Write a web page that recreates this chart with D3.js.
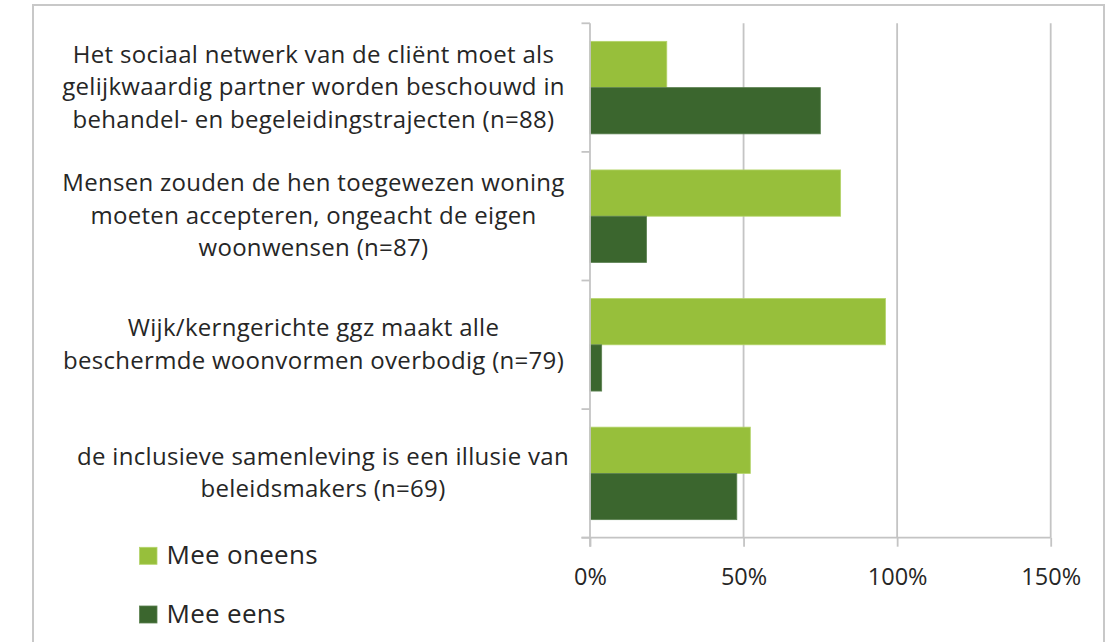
<!DOCTYPE html>
<html>
<head>
<meta charset="utf-8">
<script src="https://cdn.jsdelivr.net/npm/d3@7"></script>
<style>
  html, body { margin: 0; padding: 0; background: #ffffff; }
  svg { display: block; }
</style>
</head>
<body>
<svg id="chart" width="1106" height="642"></svg>
<script>
// ---- data ----
const categories = [
  "Het sociaal netwerk van de cliënt moet als\ngelijkwaardig partner worden beschouwd in\nbehandel- en begeleidingstrajecten (n=88)",
  "Mensen zouden de hen toegewezen woning\nmoeten accepteren, ongeacht de eigen\nwoonwensen (n=87)",
  "Wijk/kerngerichte ggz maakt alle\nbeschermde woonvormen overbodig (n=79)",
  "de inclusieve samenleving is een illusie van\nbeleidsmakers (n=69)"
];
const seriesNames = ["Mee oneens", "Mee eens"];
const meeOneens = [25.0, 81.6, 96.2, 52.2];
const meeEens = [75.0, 18.4, 3.8, 47.8];
const xTicks = [0, 50, 100, 150];
const xTickLabels = ["0%", "50%", "100%", "150%"];

// ---- style ----
const colors = ["#97bf3b", "#3b662e"];
const strokes = ["#b4d46a", "#5b8050"];
const gridColor = "#c4c4c4";
const textColor = "#262626";
const fontFamily = "'Open Sans', Lato, sans-serif";

const svg = d3.select("#chart");

// outer frame
svg.append("rect")
  .attr("x", 33).attr("y", 5)
  .attr("width", 1071).attr("height", 700)
  .attr("fill", "none")
  .attr("stroke", "#c8c8c8")
  .attr("stroke-width", 2);

const plot = { left: 590, right: 1050.7, top: 23.3, bottom: 537.7 };

const x = d3.scaleLinear().domain([0, 150]).range([plot.left, plot.right]);
const y = d3.scaleBand().domain(d3.range(categories.length)).range([plot.top, plot.bottom]).paddingInner(0).paddingOuter(0);
const inner = d3.scaleBand().domain(d3.range(seriesNames.length)).range([0, y.bandwidth()]).paddingOuter(0.39).paddingInner(0);

// gridlines
svg.append("g").selectAll("line")
  .data(xTicks.filter(t => t > 0))
  .join("line")
  .attr("x1", d => x(d)).attr("x2", d => x(d))
  .attr("y1", plot.top).attr("y2", plot.bottom)
  .attr("stroke", gridColor).attr("stroke-width", 1.8);

// bars
const series = [meeOneens, meeEens];
series.forEach((vals, si) => {
  svg.append("g").selectAll("rect")
    .data(vals)
    .join("rect")
    .attr("x", x(0))
    .attr("y", (d, i) => y(i) + inner(si))
    .attr("width", d => x(d) - x(0))
    .attr("height", inner.bandwidth())
    .attr("fill", colors[si])
    .attr("stroke", strokes[si])
    .attr("stroke-width", 0.8);
});

// x axis (bottom)
const xAxis = d3.axisBottom(x)
  .tickValues(xTicks)
  .tickFormat((d, i) => xTickLabels[i])
  .tickSize(9)
  .tickSizeOuter(0)
  .tickPadding(22);
const gx = svg.append("g").attr("transform", `translate(0,${plot.bottom})`).call(xAxis);
gx.select(".domain").remove();
gx.selectAll(".tick line").attr("stroke", gridColor).attr("stroke-width", 1.8);
gx.selectAll(".tick text")
  .attr("fill", textColor)
  .style("font-family", fontFamily)
  .style("font-size", "23.5px");
svg.append("line")
  .attr("x1", plot.left - 8.5).attr("x2", plot.right)
  .attr("y1", plot.bottom).attr("y2", plot.bottom)
  .attr("stroke", gridColor).attr("stroke-width", 1.8);

// y axis (category boundaries)
const boundaries = d3.range(categories.length + 1).map(i => i < categories.length ? y(i) : plot.bottom);
svg.append("line")
  .attr("x1", plot.left).attr("x2", plot.left)
  .attr("y1", plot.top).attr("y2", plot.bottom + 9)
  .attr("stroke", gridColor).attr("stroke-width", 1.8);
svg.append("g").selectAll("line")
  .data(boundaries)
  .join("line")
  .attr("x1", plot.left - 8.5).attr("x2", plot.left)
  .attr("y1", d => d).attr("y2", d => d)
  .attr("stroke", gridColor).attr("stroke-width", 1.8);

// category labels
const labelCenters = [313.5, 313.5, 313.5, 323];
const lineHeight = 32.5;
const labels = svg.append("g")
  .style("font-family", fontFamily)
  .style("font-size", "24px")
  .style("letter-spacing", "0.3px")
  .attr("fill", textColor)
  .attr("text-anchor", "middle");
categories.forEach((c, i) => {
  const lines = c.split("\n");
  const cy = y(i) + y.bandwidth() / 2;
  const t = labels.append("text");
  lines.forEach((ln, k) => {
    t.append("tspan")
      .attr("x", labelCenters[i])
      .attr("y", cy + (k - (lines.length - 1) / 2) * lineHeight + 7.5)
      .text(ln);
  });
});

// legend
const legend = svg.append("g")
  .style("font-family", fontFamily)
  .style("font-size", "26px")
  .style("letter-spacing", "0.3px")
  .attr("fill", textColor);
const legendRowY = [547.3, 606];
seriesNames.forEach((name, i) => {
  legend.append("rect")
    .attr("x", 139.5).attr("y", legendRowY[i])
    .attr("width", 17.5).attr("height", 17)
    .attr("fill", colors[i])
    .attr("stroke", strokes[i]).attr("stroke-width", 0.8);
  legend.append("text")
    .attr("x", 166.5).attr("y", legendRowY[i] + 17)
    .text(name);
});
</script>
</body>
</html>
